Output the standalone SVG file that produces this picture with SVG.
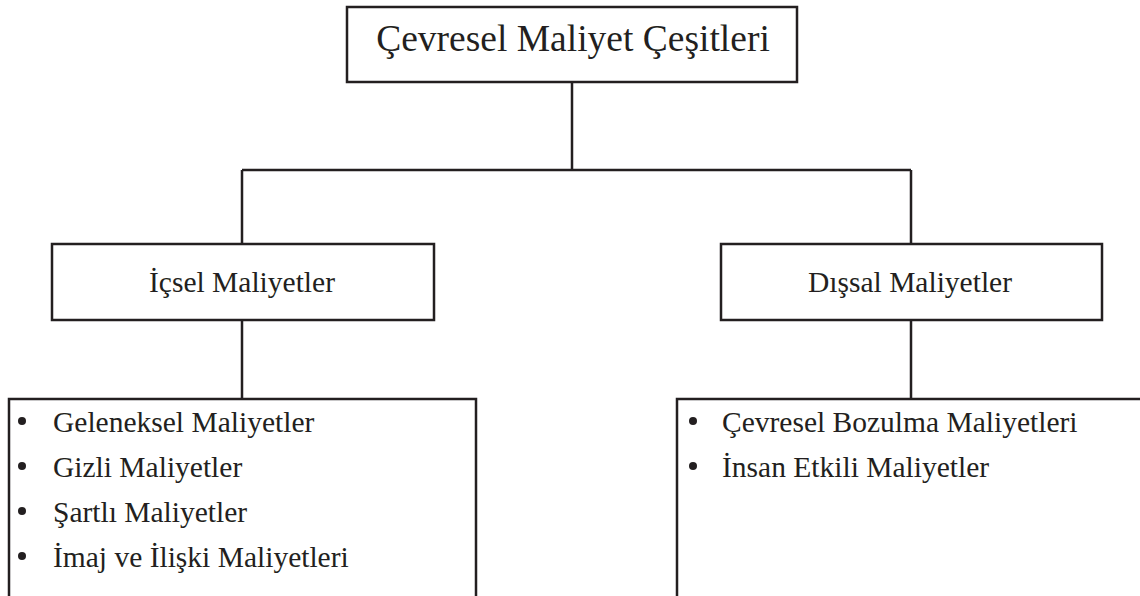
<svg xmlns="http://www.w3.org/2000/svg" width="1140" height="596" viewBox="0 0 1140 596">
<style>
.box{fill:#fff;stroke:#231f20;stroke-width:2.5}
.ln{fill:none;stroke:#231f20;stroke-width:2.5}
text{font-family:"Liberation Serif","Times New Roman",serif;fill:#231f20}
.t1{font-size:37.5px}
.t2{font-size:29.5px}
.t3{font-size:29.5px}
.b{fill:#231f20}
</style>
<rect width="1140" height="596" fill="#fff"/>
<g id="connectors">
<path class="ln" d="M572 82V170M242 170H911M242 170V244M911 170V244M242 320V399M911 320V399"/>
</g>
<g id="root">
<rect class="box" x="347" y="7" width="450" height="75"/>
<text class="t1" x="573" y="51" text-anchor="middle">Çevresel Maliyet Çeşitleri</text>
</g>
<g id="icsel">
<rect class="box" x="52" y="244" width="382" height="76"/>
<text class="t2" x="242" y="292" text-anchor="middle">İçsel Maliyetler</text>
</g>
<g id="dissal">
<rect class="box" x="721" y="244" width="381" height="76"/>
<text class="t2" x="910" y="292" text-anchor="middle">Dışsal Maliyetler</text>
</g>
<g id="icsel-list">
<rect class="box" x="9" y="399" width="467" height="210"/>
<circle class="b" cx="22" cy="421" r="4"/>
<circle class="b" cx="22" cy="466" r="4"/>
<circle class="b" cx="22" cy="511" r="4"/>
<circle class="b" cx="22" cy="556" r="4"/>
<text class="t3" x="53" y="432">Geleneksel Maliyetler</text>
<text class="t3" x="53" y="477">Gizli Maliyetler</text>
<text class="t3" x="53" y="522">Şartlı Maliyetler</text>
<text class="t3" x="53" y="567">İmaj ve İlişki Maliyetleri</text>
</g>
<g id="dissal-list">
<rect class="box" x="677" y="399" width="480" height="210"/>
<circle class="b" cx="693" cy="421" r="4"/>
<circle class="b" cx="693" cy="466" r="4"/>
<text class="t3" x="722" y="432">Çevresel Bozulma Maliyetleri</text>
<text class="t3" x="722" y="477">İnsan Etkili Maliyetler</text>
</g>
</svg>
